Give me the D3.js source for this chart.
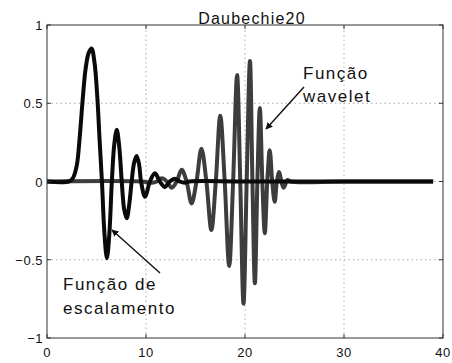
<!DOCTYPE html>
<html><head><meta charset="utf-8">
<script src="https://cdn.jsdelivr.net/npm/d3@7"></script>
<style>body{margin:0;background:#fff;} svg{display:block;}</style>
</head><body>
<script>
// ---- data ----
const title = "Daubechie20";
const xTicks = [0, 10, 20, 30, 40];
const yTicks = [-1, -0.5, 0, 0.5, 1];
const yTickLabels = ["\u22121", "\u22120.5", "0", "0.5", "1"];
// scaling function (x, y)
const scalingX = [0, 2.2, 2.6, 3.0, 3.3, 3.6, 3.9, 4.2, 4.5, 4.8, 5.1, 5.3, 5.55, 5.8, 6.05, 6.3, 6.55, 6.8, 7.05, 7.3, 7.55, 7.8, 8.05, 8.3, 8.55, 8.8, 9.05, 9.3, 9.5, 9.9, 10.4, 10.9, 11.4, 11.9, 12.4, 12.9, 13.4, 13.9, 14.4, 20, 39];
const scalingY = [0, 0, 0.02, 0.1, 0.28, 0.52, 0.72, 0.82, 0.85, 0.76, 0.52, 0.28, 0, -0.33, -0.49, -0.33, 0, 0.24, 0.33, 0.22, 0, -0.18, -0.235, -0.15, 0, 0.12, 0.163, 0.11, 0, -0.097, 0, 0.052, 0, -0.035, 0, 0.018, 0, -0.008, 0, 0, 0];
// wavelet function (x, y)
const waveletX = [0, 9.5, 10.6, 11.1, 11.6, 12.1, 12.6, 13.1, 13.6, 14.1, 14.6, 15.1, 15.6, 16.1, 16.6, 17.05, 17.5, 17.95, 18.4, 18.8, 19.2, 19.52, 19.85, 20.17, 20.5, 20.75, 21.0, 21.25, 21.5, 21.75, 22.0, 22.25, 22.5, 22.75, 23.0, 23.22, 23.45, 23.67, 23.9, 24.3, 24.6, 30, 39];
const waveletY = [0, 0, -0.008, 0, 0.02, 0, -0.04, 0, 0.075, 0, -0.14, 0, 0.21, 0, -0.31, 0, 0.42, 0, -0.54, 0, 0.68, 0, -0.78, 0, 0.77, 0, -0.65, 0, 0.47, 0, -0.33, 0, 0.2, 0, -0.13, 0, 0.06, 0, -0.04, 0.01, 0, 0, 0];
const labelWavelet = ["Função", "wavelet"];
const labelScaling = ["Função de", "escalamento"];

// ---- layout ----
const W = 452, H = 363;
const m = {left: 47, top: 25, right: 9, bottom: 25};
const iw = W - m.left - m.right, ih = H - m.top - m.bottom;
const svg = d3.select("body").append("svg").attr("width", W).attr("height", H);
const x = d3.scaleLinear().domain([0, 40]).range([m.left, m.left + iw]);
const y = d3.scaleLinear().domain([-1, 1]).range([m.top + ih, m.top]);
const font = "'Liberation Sans', Arial, sans-serif";

// grid
const grid = svg.append("g").attr("stroke", "#aaa").attr("stroke-width", 1).attr("stroke-dasharray", "1.5,3");
xTicks.slice(1, -1).forEach(t => grid.append("line").attr("x1", x(t)).attr("x2", x(t)).attr("y1", y(-1)).attr("y2", y(1)));
yTicks.slice(1, -1).forEach(t => grid.append("line").attr("x1", x(0)).attr("x2", x(40)).attr("y1", y(t)).attr("y2", y(t)));

// curves
const line = d3.line().curve(d3.curveCatmullRom.alpha(0.5));
svg.append("path").datum(waveletX.map((v, i) => [x(v), y(waveletY[i])]))
  .attr("d", line).attr("fill", "none").attr("stroke", "#3d3d3d").attr("stroke-width", 4).attr("stroke-linejoin", "round");
svg.append("path").datum(scalingX.map((v, i) => [x(v), y(scalingY[i])]))
  .attr("d", line).attr("fill", "none").attr("stroke", "#0a0a0a").attr("stroke-width", 4).attr("stroke-linejoin", "round");

// axes box + ticks
const ax = svg.append("g").attr("stroke", "#333").attr("stroke-width", 1).attr("fill", "none");
ax.append("rect").attr("x", x(0)).attr("y", y(1)).attr("width", x(40) - x(0)).attr("height", y(-1) - y(1));
xTicks.forEach(t => {
  ax.append("line").attr("x1", x(t)).attr("x2", x(t)).attr("y1", y(-1)).attr("y2", y(-1) - 4);
  ax.append("line").attr("x1", x(t)).attr("x2", x(t)).attr("y1", y(1)).attr("y2", y(1) + 4);
});
yTicks.forEach(t => {
  ax.append("line").attr("x1", x(0)).attr("x2", x(0) + 4).attr("y1", y(t)).attr("y2", y(t));
  ax.append("line").attr("x1", x(40)).attr("x2", x(40) - 4).attr("y1", y(t)).attr("y2", y(t));
});

// tick labels
svg.append("g").selectAll("text").data(xTicks).join("text")
  .attr("x", d => x(d)).attr("y", y(-1) + 19).attr("text-anchor", "middle")
  .attr("font-family", font).attr("font-size", 13).attr("letter-spacing", 0.5).attr("fill", "#111").text(d => d);
svg.append("g").selectAll("text").data(yTicks).join("text")
  .attr("x", x(0) - 4).attr("y", d => y(d) + 5).attr("text-anchor", "end")
  .attr("font-family", font).attr("font-size", 13).attr("letter-spacing", 0.5).attr("fill", "#111").text((d, i) => yTickLabels[i]);

// title
svg.append("text").attr("x", 252).attr("y", 24).attr("text-anchor", "middle")
  .attr("font-family", font).attr("font-size", 16).attr("letter-spacing", 1.2).attr("fill", "#111").text(title);

// annotations
svg.append("defs").append("marker").attr("id", "ah").attr("viewBox", "0 0 10 10").attr("refX", 9).attr("refY", 5)
  .attr("markerWidth", 5).attr("markerHeight", 5).attr("orient", "auto")
  .append("path").attr("d", "M0,0L10,5L0,10z").attr("fill", "#111");
const ann = svg.append("g").attr("font-family", font).attr("font-size", 17).attr("letter-spacing", 1.5).attr("fill", "#111");
ann.append("text").attr("x", 303).attr("y", 79).text(labelWavelet[0]);
ann.append("text").attr("x", 303).attr("y", 102).text(labelWavelet[1]);
ann.append("text").attr("x", 63).attr("y", 290).text(labelScaling[0]);
ann.append("text").attr("x", 63).attr("y", 314).text(labelScaling[1]);
svg.append("line").attr("x1", 304).attr("y1", 87).attr("x2", 266).attr("y2", 129)
  .attr("stroke", "#111").attr("stroke-width", 1.4).attr("marker-end", "url(#ah)");
svg.append("line").attr("x1", 160).attr("y1", 273).attr("x2", 112).attr("y2", 230)
  .attr("stroke", "#111").attr("stroke-width", 1.4).attr("marker-end", "url(#ah)");
</script>
</body></html>
